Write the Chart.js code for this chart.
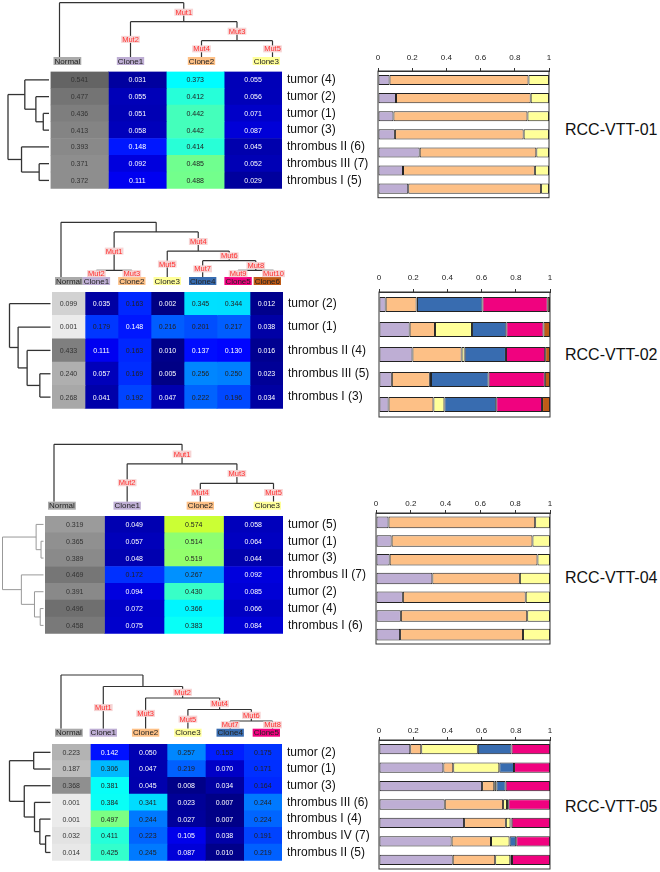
<!DOCTYPE html>
<html lang="en">
<head>
<meta charset="UTF-8">
<title>Clonal composition of RCC-VTT cases</title>
<style>
body {
    margin: 0;
    background: #fff;
    font-family: 'Liberation Sans', Arial, sans-serif;
}
#page {
    position: relative;
    width: 660px;
    height: 872px;
    overflow: hidden;
}
#page canvas {
    position: absolute;
}
.title {
    position: absolute;
    left: 565px;
    font-size: 16px;
    color: #111;
    white-space: nowrap;
}
</style>
</head>
<body>
<div id="page"></div>
<script src="https://cdn.jsdelivr.net/npm/chart.js"></script>
<script>
// ---------- RCC-VTT-01
const vtt01Samples = ['tumor (4)', 'tumor (2)', 'tumor (1)', 'tumor (3)', 'thrombus II (6)', 'thrombus III (7)', 'thrombus I (5)'];
const vtt01Cols = ['Normal', 'Clone1', 'Clone2', 'Clone3'];
const vtt01Normal = [0.541, 0.477, 0.436, 0.413, 0.393, 0.371, 0.372];
const vtt01Clone1 = [0.031, 0.055, 0.051, 0.058, 0.148, 0.092, 0.111];
const vtt01Clone2 = [0.373, 0.412, 0.442, 0.442, 0.414, 0.485, 0.488];
const vtt01Clone3 = [0.055, 0.056, 0.071, 0.087, 0.045, 0.052, 0.029];
// row dendrogram: [left, right, height], leaves are row indexes
const vtt01RowTree = [[0, [1, [2, 3, 0.14], 0.32], 0.59], [4, [5, 6, 0.24], 0.67], 1];
const vtt01Tree = {level: 0, children: [
    {leaf: 'Normal'},
    {mut: 'Mut1', level: 1, children: [
        {leaf: 'Clone1', mut: 'Mut2'},
        {mut: 'Mut3', level: 2, children: [{leaf: 'Clone2', mut: 'Mut4'}, {leaf: 'Clone3', mut: 'Mut5'}]}
    ]}
]};

// ---------- RCC-VTT-02
const vtt02Samples = ['tumor (2)', 'tumor (1)', 'thrombus II (4)', 'thrombus III (5)', 'thrombus I (3)'];
const vtt02Cols = ['Normal', 'Clone1', 'Clone2', 'Clone3', 'Clone4', 'Clone5', 'Clone6'];
const vtt02Normal = [0.099, 0.001, 0.433, 0.240, 0.268];
const vtt02Clone1 = [0.035, 0.179, 0.111, 0.057, 0.041];
const vtt02Clone2 = [0.163, 0.148, 0.163, 0.169, 0.192];
const vtt02Clone3 = [0.002, 0.216, 0.010, 0.005, 0.047];
const vtt02Clone4 = [0.345, 0.201, 0.137, 0.256, 0.222];
const vtt02Clone5 = [0.344, 0.217, 0.130, 0.250, 0.196];
const vtt02Clone6 = [0.012, 0.038, 0.016, 0.023, 0.034];
const vtt02RowTree = [0, [1, [2, [3, 4, 0.26], 0.57], 0.79], 1];
const vtt02Tree = {level: 0, children: [
    {leaf: 'Normal'},
    {level: 1, children: [
        {mut: 'Mut1', level: 5, children: [{leaf: 'Clone1', mut: 'Mut2'}, {leaf: 'Clone2', mut: 'Mut3'}]},
        {mut: 'Mut4', level: 3, children: [
            {leaf: 'Clone3', mut: 'Mut5'},
            {mut: 'Mut6', level: 4, children: [
                {leaf: 'Clone4', mut: 'Mut7'},
                {mut: 'Mut8', level: 5, children: [{leaf: 'Clone5', mut: 'Mut9'}, {leaf: 'Clone6', mut: 'Mut10'}]}
            ]}
        ]}
    ]}
]};

// ---------- RCC-VTT-04
const vtt04Samples = ['tumor (5)', 'tumor (1)', 'tumor (3)', 'thrombus II (7)', 'tumor (2)', 'tumor (4)', 'thrombus I (6)'];
const vtt04Cols = ['Normal', 'Clone1', 'Clone2', 'Clone3'];
const vtt04Normal = [0.319, 0.365, 0.389, 0.469, 0.391, 0.496, 0.458];
const vtt04Clone1 = [0.049, 0.057, 0.048, 0.172, 0.094, 0.072, 0.075];
const vtt04Clone2 = [0.574, 0.514, 0.519, 0.267, 0.430, 0.366, 0.383];
const vtt04Clone3 = [0.058, 0.064, 0.044, 0.092, 0.085, 0.066, 0.084];
const vtt04RowTree = [[0, [1, 2, 0.06], 0.18], [3, [4, [5, 6, 0.08], 0.22], 0.54], 1];
const vtt04Tree = {level: 0, children: [
    {leaf: 'Normal'},
    {mut: 'Mut1', level: 1, children: [
        {leaf: 'Clone1', mut: 'Mut2'},
        {mut: 'Mut3', level: 2, children: [{leaf: 'Clone2', mut: 'Mut4'}, {leaf: 'Clone3', mut: 'Mut5'}]}
    ]}
]};

// ---------- RCC-VTT-05
const vtt05Samples = ['tumor (2)', 'tumor (1)', 'tumor (3)', 'thrombus III (6)', 'thrombus I (4)', 'thrombus IV (7)', 'thrombus II (5)'];
const vtt05Cols = ['Normal', 'Clone1', 'Clone2', 'Clone3', 'Clone4', 'Clone5'];
const vtt05Normal = [0.223, 0.187, 0.368, 0.001, 0.001, 0.032, 0.014];
const vtt05Clone1 = [0.142, 0.306, 0.381, 0.384, 0.497, 0.411, 0.425];
const vtt05Clone2 = [0.050, 0.047, 0.045, 0.341, 0.244, 0.223, 0.245];
const vtt05Clone3 = [0.257, 0.219, 0.008, 0.023, 0.027, 0.105, 0.087];
const vtt05Clone4 = [0.153, 0.070, 0.034, 0.007, 0.007, 0.038, 0.010];
const vtt05Clone5 = [0.175, 0.171, 0.164, 0.244, 0.224, 0.191, 0.219];
const vtt05RowTree = [[0, 1, 0.41], [2, [3, [4, [5, 6, 0.12], 0.26], 0.39], 0.64], 1];
const vtt05Tree = {level: 0, children: [
    {leaf: 'Normal'},
    {level: 1, children: [
        {leaf: 'Clone1', mut: 'Mut1'},
        {mut: 'Mut2', level: 2, children: [
            {leaf: 'Clone2', mut: 'Mut3'},
            {mut: 'Mut4', level: 3, children: [
                {leaf: 'Clone3', mut: 'Mut5'},
                {mut: 'Mut6', level: 4, children: [{leaf: 'Clone4', mut: 'Mut7'}, {leaf: 'Clone5', mut: 'Mut8'}]}
            ]}
        ]}
    ]}
]};

// colours (ColorBrewer Accent)
const cloneColors = {
    Normal: '#aaaaaa', Clone1: '#BEAED4', Clone2: '#FDC086', Clone3: '#FFFF99',
    Clone4: '#386CB0', Clone5: '#F0027F', Clone6: '#BF5B17'
};
const FONT = "'Liberation Sans', Arial, sans-serif";
Chart.defaults.font.family = FONT;

// layout of each panel, page pixels
const panels = [
    {
        title: 'RCC-VTT-01', titleY: 121, samples: vtt01Samples, cols: vtt01Cols,
        values: [vtt01Normal, vtt01Clone1, vtt01Clone2, vtt01Clone3],
        rowTree: vtt01RowTree, tree: vtt01Tree, dendroColor: '#333', dendroWidth: 1.3,
        hm: {l: 50.5, t: 71.5, r: 282, b: 198}, treeY: {root: 2.7, step: 19, label: 61},
        bars: {l: 378, t: 71, r: 549, b: 197.7}, barPct: 0.56, tickPad: 5
    },
    {
        title: 'RCC-VTT-02', titleY: 346, samples: vtt02Samples, cols: vtt02Cols,
        values: [vtt02Normal, vtt02Clone1, vtt02Clone2, vtt02Clone3, vtt02Clone4, vtt02Clone5, vtt02Clone6],
        rowTree: vtt02RowTree, tree: vtt02Tree, dendroColor: '#333', dendroWidth: 1.3,
        hm: {l: 52, t: 292, r: 283, b: 418}, treeY: {root: 222.3, step: 9.6, label: 281},
        bars: {l: 379, t: 292, r: 550, b: 417}, barPct: 0.6, tickPad: 6
    },
    {
        title: 'RCC-VTT-04', titleY: 569, samples: vtt04Samples, cols: vtt04Cols,
        values: [vtt04Normal, vtt04Clone1, vtt04Clone2, vtt04Clone3],
        rowTree: vtt04RowTree, tree: vtt04Tree, dendroColor: '#999', dendroWidth: 1,
        hm: {l: 45, t: 516, r: 283, b: 643}, treeY: {root: 444.3, step: 19.5, label: 505.7},
        bars: {l: 376, t: 513, r: 550, b: 644}, barPct: 0.62, tickPad: 1
    },
    {
        title: 'RCC-VTT-05', titleY: 798, samples: vtt05Samples, cols: vtt05Cols,
        values: [vtt05Normal, vtt05Clone1, vtt05Clone2, vtt05Clone3, vtt05Clone4, vtt05Clone5],
        rowTree: vtt05RowTree, tree: vtt05Tree, dendroColor: '#333', dendroWidth: 1.3,
        hm: {l: 52, t: 744, r: 282, b: 870}, treeY: {root: 675, step: 11.5, label: 732.7},
        bars: {l: 379, t: 740, r: 550, b: 869}, barPct: 0.56, tickPad: 1.5
    }
];

const page = document.getElementById('page');

function makeCanvas(left, top, width, height) {
    const c = document.createElement('canvas');
    c.width = width;
    c.height = height;
    c.style.left = left + 'px';
    c.style.top = top + 'px';
    c.style.width = width + 'px';
    c.style.height = height + 'px';
    page.appendChild(c);
    return c;
}

function clamp01(v) { return Math.max(0, Math.min(1, v)); }

// matlab style jet colour map on 0..1
function jet(v) {
    const t = clamp01(v);
    const r = clamp01(Math.min(4 * t - 1.5, -4 * t + 4.5));
    const g = clamp01(Math.min(4 * t - 0.5, -4 * t + 3.5));
    const b = clamp01(Math.min(4 * t + 0.5, -4 * t + 2.5));
    return `rgb(${Math.round(r * 255)},${Math.round(g * 255)},${Math.round(b * 255)})`;
}

function grayFor(v) {
    const g = Math.max(0, Math.min(255, Math.round(235 - 250 * v)));
    return `rgb(${g},${g},${g})`;
}

function line(ctx, x1, y1, x2, y2) {
    ctx.beginPath();
    ctx.moveTo(x1, y1);
    ctx.lineTo(x2, y2);
    ctx.stroke();
}

// trees, row dendrogram and cell labels around the heatmap
function heatmapExtras(p, top) {
    return {
        id: 'heatmapExtras',
        afterDraw(chart) {
            const ctx = chart.ctx;
            const xs = chart.scales.x, ys = chart.scales.y;
            const area = chart.chartArea;
            ctx.save();

            // cell values
            ctx.font = '7px ' + FONT;
            ctx.textAlign = 'center';
            ctx.textBaseline = 'middle';
            p.values.forEach((col, c) => {
                col.forEach((v, r) => {
                    ctx.fillStyle = c === 0 ? '#333' : (v < 0.15 ? '#fff' : '#222');
                    ctx.fillText(v.toFixed(3), xs.getPixelForValue(c + 0.5), ys.getPixelForValue(r) + 0.5);
                });
            });

            // row dendrogram on the left
            ctx.strokeStyle = p.dendroColor;
            ctx.lineWidth = p.dendroWidth;
            const x0 = area.left - 1.5;
            const xAt = h => x0 - h * 41;
            const walk = n => {
                if (typeof n === 'number') return {y: ys.getPixelForValue(n), h: 0};
                const a = walk(n[0]), b = walk(n[1]);
                const x = xAt(n[2]);
                line(ctx, xAt(a.h), a.y, x, a.y);
                line(ctx, xAt(b.h), b.y, x, b.y);
                line(ctx, x, a.y, x, b.y);
                return {y: (a.y + b.y) / 2, h: n[2]};
            };
            walk(p.rowTree);

            // clone tree on top
            const leaves = [];
            const collect = n => { if (n.leaf) leaves.push(n); else n.children.forEach(collect); };
            collect(p.tree);
            const lx0 = area.left + 9, lx1 = area.right - 9.5;
            const pos = new Map();
            leaves.forEach((lf, i) => {
                pos.set(lf, {x: lx0 + i * (lx1 - lx0) / (leaves.length - 1), y: p.treeY.label - 4 - top});
            });
            const place = n => {
                if (n.leaf) return pos.get(n);
                const kids = n.children.map(place);
                const pt = {x: kids.reduce((s, k) => s + k.x, 0) / kids.length, y: p.treeY.root + n.level * p.treeY.step - top};
                pos.set(n, pt);
                return pt;
            };
            place(p.tree);

            ctx.strokeStyle = '#333';
            ctx.lineWidth = 1.2;
            const muts = [];
            const drawNode = n => {
                if (n.leaf) return;
                const me = pos.get(n);
                const kids = n.children.map(k => pos.get(k));
                line(ctx, kids[0].x, me.y, kids[kids.length - 1].x, me.y);
                n.children.forEach((k, i) => {
                    line(ctx, kids[i].x, me.y, kids[i].x, kids[i].y);
                    if (k.mut) muts.push({text: k.mut, x: kids[i].x, y: (me.y + kids[i].y) / 2});
                    drawNode(k);
                });
            };
            drawNode(p.tree);

            // leaf labels
            ctx.font = '8px ' + FONT;
            leaves.forEach(lf => {
                const pt = pos.get(lf);
                const w = ctx.measureText(lf.leaf).width + 2;
                const cx = Math.max(area.left + 3 + w / 2, Math.min(area.right - 2 - w / 2, pt.x));
                const cy = p.treeY.label - top;
                ctx.fillStyle = cloneColors[lf.leaf];
                ctx.fillRect(cx - w / 2, cy - 4, w, 8);
                ctx.fillStyle = '#222';
                ctx.fillText(lf.leaf, cx, cy + 0.5);
            });

            // mutation labels
            ctx.font = '7.5px ' + FONT;
            muts.forEach(m => {
                const w = ctx.measureText(m.text).width + 2;
                ctx.fillStyle = '#f6d4d4';
                ctx.fillRect(m.x - w / 2, m.y - 3.5, w, 7);
                ctx.fillStyle = '#ff3030';
                ctx.fillText(m.text, m.x, m.y + 0.5);
            });
            ctx.restore();
        }
    };
}

function heatmapChart(p) {
    const top = Math.max(0, Math.floor(p.treeY.root - 4));
    const width = 376;
    const height = Math.ceil(p.hm.b + 3 - top);
    const canvas = makeCanvas(0, top, width, height);
    const datasets = p.cols.map((name, c) => ({
        label: name,
        data: p.samples.map(() => 1),
        backgroundColor: p.values[c].map(v => c === 0 ? grayFor(v) : jet(v)),
        borderWidth: 0,
        barPercentage: 1,
        categoryPercentage: 1
    }));
    new Chart(canvas, {
        type: 'bar',
        data: {labels: p.samples, datasets: datasets},
        options: {
            indexAxis: 'y',
            responsive: false,
            animation: false,
            devicePixelRatio: 1,
            layout: {padding: {left: p.hm.l, top: p.hm.t - top, right: 0, bottom: top + height - p.hm.b}},
            scales: {
                x: {display: false, stacked: true, min: 0, max: p.cols.length},
                y: {
                    stacked: true,
                    position: 'right',
                    grid: {display: false, drawTicks: false},
                    border: {display: false},
                    ticks: {color: '#111', font: {size: 12}, padding: 5},
                    afterFit: s => { s.width = width - p.hm.r; }
                }
            },
            plugins: {legend: {display: false}, tooltip: {enabled: false}}
        },
        plugins: [heatmapExtras(p, top)]
    });
}

const frame = {
    id: 'frame',
    afterDatasetsDraw(chart) {
        const a = chart.chartArea, ctx = chart.ctx;
        ctx.save();
        ctx.strokeStyle = '#333';
        ctx.lineWidth = 1;
        ctx.strokeRect(a.left, a.top, a.right - a.left, a.bottom - a.top);
        ctx.restore();
    }
};

function barsChart(p) {
    const left = 366, width = 194;
    const top = Math.floor(p.bars.t - 30);
    const height = Math.ceil(p.bars.b + 2 - top);
    const canvas = makeCanvas(left, top, width, height);
    const cloneCols = p.cols.slice(1);
    // share of each clone among the tumour cells of a sample
    const sums = p.samples.map((s, r) => cloneCols.reduce((acc, c, k) => acc + p.values[k + 1][r], 0));
    const datasets = cloneCols.map((name, k) => ({
        label: name,
        data: p.values[k + 1].map((v, r) => v / sums[r]),
        backgroundColor: cloneColors[name],
        borderColor: '#222',
        borderWidth: 1,
        borderSkipped: false,
        barPercentage: p.barPct,
        categoryPercentage: 1
    }));
    new Chart(canvas, {
        type: 'bar',
        data: {labels: p.samples, datasets: datasets},
        options: {
            indexAxis: 'y',
            responsive: false,
            animation: false,
            devicePixelRatio: 1,
            layout: {padding: {left: p.bars.l - left, right: left + width - p.bars.r, top: 0, bottom: top + height - p.bars.b}},
            scales: {
                x: {
                    position: 'top',
                    stacked: true,
                    min: 0,
                    max: 1,
                    grid: {drawOnChartArea: false, drawTicks: true, tickLength: 3, color: '#333'},
                    border: {display: true, color: '#333'},
                    ticks: {
                        stepSize: 0.2, autoSkip: false, maxRotation: 0,
                        font: {size: 8}, color: '#222', padding: p.tickPad,
                        callback: v => String(+Number(v).toFixed(1))
                    },
                    afterFit: s => { s.height = p.bars.t - top; }
                },
                y: {display: false, stacked: true}
            },
            plugins: {legend: {display: false}, tooltip: {enabled: false}}
        },
        plugins: [frame]
    });
}

panels.forEach(p => {
    heatmapChart(p);
    barsChart(p);
    const t = document.createElement('div');
    t.className = 'title';
    t.style.top = p.titleY + 'px';
    t.textContent = p.title;
    page.appendChild(t);
});
</script>
</body>
</html>
